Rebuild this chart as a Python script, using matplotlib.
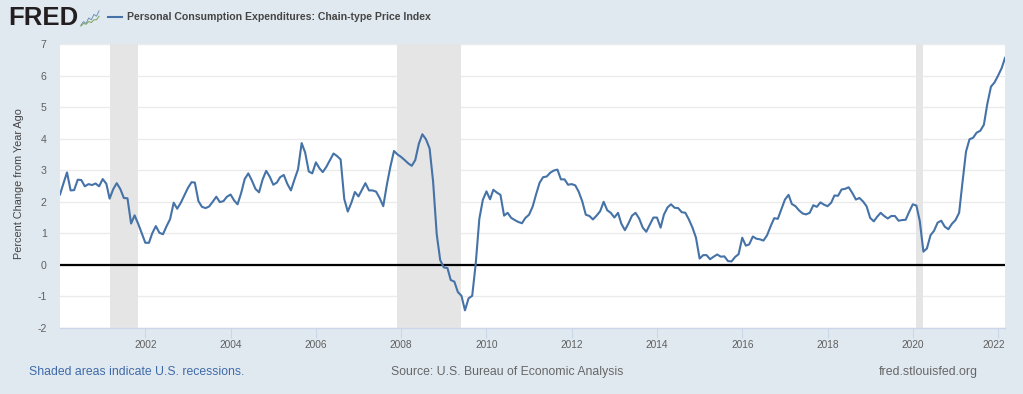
import numpy as np
import pandas as pd
import matplotlib
matplotlib.use("Agg")
import matplotlib.pyplot as plt
from matplotlib.ticker import FixedLocator
from matplotlib.transforms import ScaledTranslation

plt.rcParams['font.family'] = ['Liberation Sans', 'DejaVu Sans']
plt.rcParams['axes.unicode_minus'] = False

v2000 = [2.23, 2.60, 2.93, 2.36, 2.37, 2.70, 2.69, 2.49, 2.56, 2.53, 2.58, 2.49]
v2001 = [2.72, 2.57, 2.10, 2.40, 2.59, 2.40, 2.12, 2.11, 1.31, 1.57, 1.30, 1.00]
v2002 = [0.70, 0.70, 1.00, 1.23, 1.02, 0.97, 1.22, 1.45, 1.97, 1.78, 1.97, 2.20]
v2003 = [2.44, 2.62, 2.61, 2.02, 1.84, 1.80, 1.85, 2.00, 2.16, 1.99, 2.02, 2.16]
v2004 = [2.23, 2.04, 1.92, 2.28, 2.72, 2.90, 2.68, 2.41, 2.30, 2.70, 2.98, 2.80]
v2005 = [2.54, 2.61, 2.78, 2.85, 2.57, 2.36, 2.70, 3.03, 3.86, 3.56, 2.96, 2.90]
v2006 = [3.25, 3.06, 2.94, 3.11, 3.32, 3.53, 3.45, 3.34, 2.09, 1.69, 1.97, 2.31]
v2007 = [2.17, 2.39, 2.59, 2.36, 2.36, 2.32, 2.12, 1.86, 2.54, 3.11, 3.61, 3.50]
v2008 = [3.42, 3.32, 3.22, 3.14, 3.32, 3.84, 4.14, 3.98, 3.69, 2.64, 0.97, 0.15]
v2009 = [-0.08, -0.10, -0.48, -0.53, -0.86, -0.98, -1.44, -1.06, -0.98, 0.03, 1.46, 2.06]
v2010 = [2.33, 2.08, 2.38, 2.29, 2.22, 1.56, 1.65, 1.49, 1.42, 1.36, 1.32, 1.49]
v2011 = [1.59, 1.85, 2.22, 2.60, 2.78, 2.80, 2.92, 2.99, 3.02, 2.71, 2.71, 2.54]
v2012 = [2.56, 2.52, 2.32, 2.01, 1.59, 1.55, 1.44, 1.56, 1.70, 2.00, 1.73, 1.65]
v2013 = [1.50, 1.65, 1.31, 1.10, 1.31, 1.56, 1.65, 1.47, 1.18, 1.05, 1.28, 1.50]
v2014 = [1.50, 1.18, 1.59, 1.82, 1.92, 1.81, 1.80, 1.67, 1.65, 1.44, 1.18, 0.86]
v2015 = [0.20, 0.31, 0.31, 0.18, 0.26, 0.33, 0.26, 0.27, 0.12, 0.11, 0.25, 0.34]
v2016 = [0.86, 0.61, 0.65, 0.90, 0.83, 0.81, 0.77, 0.94, 1.23, 1.48, 1.46, 1.76]
v2017 = [2.07, 2.22, 1.93, 1.86, 1.73, 1.63, 1.60, 1.65, 1.89, 1.84, 1.98, 1.91]
v2018 = [1.86, 1.97, 2.20, 2.19, 2.39, 2.41, 2.46, 2.28, 2.07, 2.12, 2.01, 1.86]
v2019 = [1.49, 1.38, 1.52, 1.65, 1.55, 1.47, 1.55, 1.55, 1.40, 1.42, 1.43, 1.68]
v2020 = [1.92, 1.88, 1.39, 0.42, 0.52, 0.94, 1.08, 1.34, 1.40, 1.21, 1.13, 1.30]
v2021 = [1.42, 1.65, 2.59, 3.59, 3.98, 4.03, 4.19, 4.25, 4.44, 5.11, 5.65, 5.78]
v2022 = [6.00, 6.24, 6.56]

values = (v2000 + v2001 + v2002 + v2003 + v2004 + v2005 + v2006 + v2007 + v2008 +
          v2009 + v2010 + v2011 + v2012 + v2013 + v2014 + v2015 + v2016 + v2017 +
          v2018 + v2019 + v2020 + v2021 + v2022)
dates = pd.date_range("2000-01-01", periods=len(values), freq="MS")

recession_start = ["2001-03-01", "2007-12-01", "2020-02-01"]
recession_end = ["2001-11-01", "2009-06-01", "2020-04-01"]
y_ticks = [-2, -1, 0, 1, 2, 3, 4, 5, 6, 7]
x_tick_years = list(range(2002, 2023, 2))

series_name = "Personal Consumption Expenditures: Chain-type Price Index"
y_label = "Percent Change from Year Ago"
note_left = "Shaded areas indicate U.S. recessions."
note_mid = "Source: U.S. Bureau of Economic Analysis"
note_right = "fred.stlouisfed.org"

W, H = 1023, 394
BG = "#e1e9f0"
LINE = "#4572a7"
fig = plt.figure(figsize=(W / 100, H / 100), dpi=100, facecolor=BG)

def fx(px): return px / W
def fy(py): return 1 - py / H

L, R, T, B = 60, 1005, 44, 328
ax = fig.add_axes([fx(L), fy(B), fx(R - L), (B - T) / H], facecolor="white")
ax.set_xlim(dates[0], dates[-1])
ax.set_ylim(-2, 7)

for s, e in zip(recession_start, recession_end):
    ax.axvspan(pd.Timestamp(s), pd.Timestamp(e), color="#e5e5e5", lw=0, zorder=1)

ax.yaxis.set_major_locator(FixedLocator(y_ticks))
ax.grid(axis="y", color="#ebebeb", lw=1.0, zorder=0.5)
ax.set_axisbelow(True)
ax.axhline(0, color="black", lw=1.6, zorder=2)
ax.plot(dates, values, color=LINE, lw=1.5, zorder=3, solid_joinstyle="round")

for sp in ["top", "left", "right"]:
    ax.spines[sp].set_visible(False)
ax.spines["bottom"].set_color("#ccd6eb")
ax.spines["bottom"].set_linewidth(1.0)

ax.set_xticks([pd.Timestamp(f"{y}-01-01") for y in x_tick_years])
ax.set_xticklabels([str(y) for y in x_tick_years])
ax.tick_params(axis="x", length=7, width=0.8, color="#ccd6eb", labelsize=7.3,
               labelcolor="#5f5f5f", pad=1.5)
ax.tick_params(axis="y", length=0, labelsize=7.6, labelcolor="#5f5f5f", pad=9.5)
last_label = ax.get_xticklabels()[-1]
last_label.set_transform(last_label.get_transform() +
                         ScaledTranslation(-4 / 100, 0, fig.dpi_scale_trans))

fig.text(fx(19.5), fy(184), y_label, rotation=90, ha="center", va="center",
         fontsize=7.8, color="#444444")

# header
fig.text(fx(8), fy(18), "FRED", fontsize=18.5, fontweight="bold", color="#231f20",
         ha="left", va="center", family=["Liberation Sans"])
icon = fig.add_axes([fx(80), fy(27), fx(20), 18 / H], facecolor="#e9edf0")
icon_blue = [1, 3, 2, 5, 4, 7, 6, 9]
icon_green = [0.5, 2, 1.5, 3, 2.5, 4, 4, 6]
icon.plot(icon_blue, color="#6f93b8", lw=0.7)
icon.plot(icon_green, color="#7aa354", lw=0.7)
icon.set_ylim(0, 10)
icon.axis("off")

fig.add_artist(plt.Line2D([fx(108), fx(122)], [fy(17), fy(17)], color=LINE, lw=1.5))
fig.text(fx(127), fy(17.5), series_name, fontsize=7.6, fontweight="bold",
         color="#454545", ha="left", va="center")

# footer
fig.text(fx(29), fy(372), note_left, fontsize=8.8, color="#3e6aa8", ha="left", va="center")
fig.text(fx(391), fy(372), note_mid, fontsize=8.85, color="#666666", ha="left", va="center")
fig.text(fx(978), fy(372), note_right, fontsize=8.9, color="#666666", ha="right", va="center")

fig.savefig("out.png", dpi=100, facecolor=BG)
